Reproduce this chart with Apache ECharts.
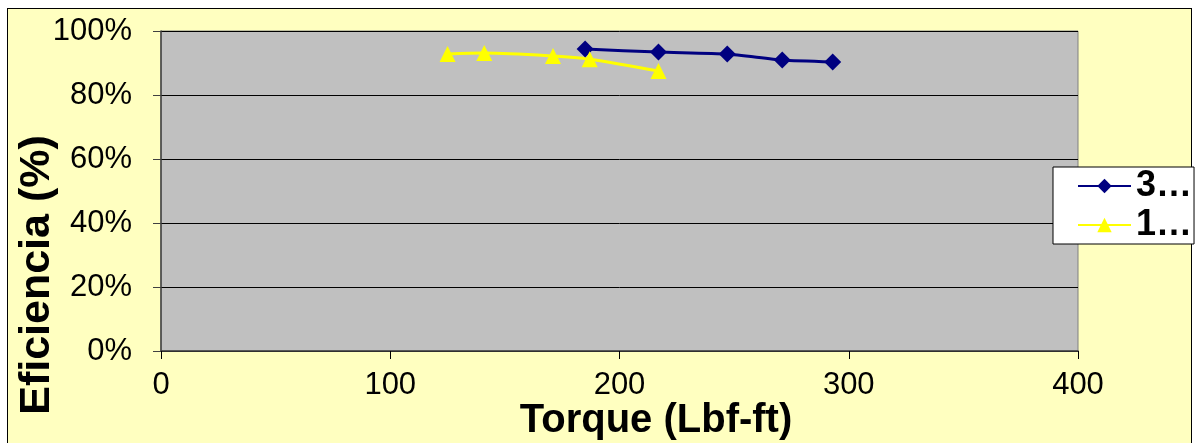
<!DOCTYPE html>
<html>
<head>
<meta charset="utf-8">
<script src="https://cdn.jsdelivr.net/npm/echarts@6/dist/echarts.min.js"></script>
<style>
  html, body { margin: 0; padding: 0; background: #ffffff; }
  #frame { position: absolute; left: 7px; top: 8px; width: 1185px; height: 460px; border: 1px solid #000; background: #FFFFC0; box-sizing: border-box; }
  #chart { position: absolute; left: 0; top: 0; width: 1196px; height: 443px; }
</style>
</head>
<body>
<div id="frame"></div>
<div id="chart"></div>
<script>
// Data
const seriesNames = ['3…', '1…'];
const torque3 = [185, 217, 247, 271, 293];
const eff3 = [94.4, 93.4, 92.8, 90.9, 90.3];
const torque1 = [125, 141, 171, 187, 217];
const eff1 = [92.8, 93.1, 92.2, 91.2, 87.5];
const xTitle = 'Torque (Lbf-ft)';
const yTitle = 'Eficiencia (%)';

const pairs = (xs, ys) => xs.map((x, i) => [x, ys[i]]);
const FONT = '"Liberation Sans", Arial, sans-serif';

const chart = echarts.init(document.getElementById('chart'), null, { renderer: 'canvas' });
chart.setOption({
  backgroundColor: 'transparent',
  animation: false,
  grid: {
    left: 161, right: 118, top: 31, bottom: 92,
    show: true, backgroundColor: '#C0C0C0', borderColor: '#808080', borderWidth: 1
  },
  xAxis: {
    type: 'value', min: 0, max: 400, interval: 100,
    axisLine: { show: true, onZero: false, lineStyle: { color: '#404040', width: 1.5 } },
    axisTick: { show: true, inside: false, length: 8, lineStyle: { color: '#000' } },
    axisLabel: { color: '#000', fontFamily: FONT, fontSize: 31, margin: 19 },
    splitLine: { show: false }
  },
  yAxis: {
    type: 'value', min: 0, max: 100, interval: 20,
    axisLine: { show: true, onZero: false, lineStyle: { color: '#404040', width: 1.5 } },
    axisTick: { show: true, inside: false, length: 8, lineStyle: { color: '#404040' } },
    axisLabel: { color: '#000', fontFamily: FONT, fontSize: 31, margin: 29, formatter: '{value}%' },
    splitLine: { show: true, lineStyle: { color: '#000', width: 1 } }
  },
  legend: {
    orient: 'vertical', left: 1053, top: 167,
    backgroundColor: '#ffffff', borderColor: '#000', borderWidth: 1,
    padding: [1, 2, 1, 24], itemGap: 3, itemWidth: 53, itemHeight: 18,
    textStyle: { color: '#000', fontFamily: FONT, fontSize: 36, fontWeight: 'bold', lineHeight: 34 },
    data: seriesNames
  },
  series: [
    {
      name: seriesNames[0], type: 'line', smooth: 0.2,
      data: pairs(torque3, eff3),
      symbol: 'diamond', symbolSize: 17,
      lineStyle: { color: '#000080', width: 3 },
      itemStyle: { color: '#000080' }
    },
    {
      name: seriesNames[1], type: 'line', smooth: 0.3,
      data: pairs(torque1, eff1),
      symbol: 'triangle', symbolSize: 16,
      lineStyle: { color: '#FFFF00', width: 3 },
      itemStyle: { color: '#FFFF00' }
    }
  ],
  graphic: [
    {
      type: 'text', x: 656, y: 421, z: 100,
      style: { text: xTitle, font: 'bold 40px ' + FONT, fill: '#000', align: 'center', verticalAlign: 'middle' }
    },
    {
      type: 'text', x: 37, y: 275, rotation: Math.PI / 2, z: 100,
      style: { text: yTitle, font: 'bold 43px ' + FONT, fill: '#000', align: 'center', verticalAlign: 'middle' }
    }
  ]
});
</script>
</body>
</html>
